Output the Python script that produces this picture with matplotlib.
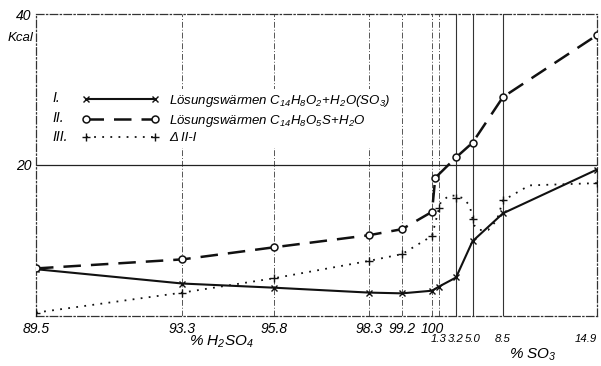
import matplotlib
matplotlib.use("Agg")
import matplotlib.pyplot as plt
import numpy as np

plt.rcParams['font.family'] = ['Liberation Sans', 'DejaVu Sans']
plt.rcParams['font.style'] = 'italic'
plt.rcParams['mathtext.fontset'] = 'custom'
plt.rcParams['mathtext.rm'] = 'Liberation Sans:italic'
plt.rcParams['mathtext.it'] = 'Liberation Sans:italic'

# composition axis: % H2SO4 up to 100, beyond that 100 + % free SO3
h2so4_ticks = [89.5, 93.3, 95.8, 98.3, 99.2, 100.0]
h2so4_labels = ["89.5", "93.3", "95.8", "98.3", "99.2", "100"]
so3_ticks = [101.3, 103.2, 105.0, 108.5, 114.9]
so3_labels = ["1.3", "3.2", "5.0", "8.5", "14.9"]

# the plate's axis is not linear: where each tick value sits along the width
axis_comp = [89.5, 93.3, 95.8, 98.3, 99.2, 100.0, 101.3, 103.2, 105.0, 108.5, 114.9]
axis_frac = [0.0, 0.2611, 0.4242, 0.5936, 0.6524, 0.7059, 0.7184, 0.7487, 0.7781, 0.8324, 1.0]

# I: Loesungswaermen C14H8O2 + H2O(SO3)
comp_I = [89.5, 93.3, 95.8, 98.3, 99.2, 100.0, 101.3, 103.2, 105.0, 108.5, 114.9]
heat_I = [6.2, 4.3, 3.75, 3.1, 3.0, 3.35, 3.9, 5.1, 9.9, 13.6, 19.4]

# II: Loesungswaermen C14H8O5S + H2O
comp_II = [89.5, 93.3, 95.8, 98.3, 99.2, 100.0, 100.6, 103.2, 105.0, 108.5, 114.9]
heat_II = [6.3, 7.5, 9.1, 10.7, 11.5, 13.8, 18.3, 21.0, 22.95, 29.0, 37.2]

# III: difference II - I (marked points)
comp_III = [89.5, 93.3, 95.8, 98.3, 99.2, 100.0, 101.3, 103.2, 105.0, 108.5, 114.9]
heat_III = [0.45, 3.1, 5.0, 7.3, 8.2, 10.6, 14.3, 15.6, 12.9, 15.3, 17.6]
# course of the hand drawn dotted curve III
curve_III_x = [89.5, 93.3, 95.8, 98.3, 99.2, 100.0, 101.3, 101.5, 102.5, 103.2, 104.0,
               104.7, 105.0, 105.2, 105.7, 106.8, 107.8, 108.5, 110.3, 114.9]
curve_III_y = [0.45, 3.1, 5.0, 7.3, 8.2, 10.6, 14.3, 15.1, 16.0, 15.9, 15.6,
               14.6, 12.9, 12.0, 11.4, 11.4, 12.7, 15.3, 17.3, 17.6]


def fwd(u):
    return np.interp(u, axis_comp, axis_frac)


def inv(f):
    return np.interp(f, axis_frac, axis_comp)


fig = plt.figure(figsize=(6.01, 3.66), dpi=100)
ax = fig.add_axes([36 / 601, 50 / 366, 561 / 601, 302 / 366])
ax.set_xscale('function', functions=(fwd, inv))
ax.set_xlim(89.5, 114.9)
ax.set_ylim(0, 40)

ink = '#111111'

# grid lines at the composition ticks
for v in h2so4_ticks[1:] + [101.3]:
    ax.axvline(v, color='#555555', lw=0.7, ls=(0, (6, 2, 1, 2)), zorder=1)
for v in so3_ticks[1:4]:
    ax.axvline(v, color='#333333', lw=0.8, zorder=1)
ax.axhline(20, color='#222222', lw=0.9, zorder=1)

for side in ['left', 'bottom', 'top', 'right']:
    ax.spines[side].set_linestyle((0, (6, 2, 1, 2)))
    ax.spines[side].set_linewidth(0.9)
    ax.spines[side].set_color('#333333')

# curves
ax.plot(comp_I, heat_I, '-', color=ink, lw=1.5, marker='x', ms=4.5, mew=1.0,
        zorder=4, label=r'Lösungswärmen $\mathrm{C_{14}H_8O_2\!+\!H_2O(SO_3)}$')
ax.plot(comp_II, heat_II, color=ink, lw=1.8, dashes=(7, 4), marker='o', ms=5,
        mfc='white', mew=1.1, zorder=4,
        label=r'Lösungswärmen $\mathrm{C_{14}H_8O_5S\!+\!H_2O}$')
ax.plot(curve_III_x, curve_III_y, color=ink, lw=1.3, dashes=(1, 3.5), zorder=3)
ax.plot(comp_III, heat_III, ls='none', color=ink, marker='+', ms=6, mew=1.0, zorder=4)
ax.plot([], [], color=ink, lw=1.3, dashes=(1, 3.5), marker='+', ms=6, mew=1.0,
        label='Δ II-I')

leg = ax.legend(loc='upper left', bbox_to_anchor=(0.075, 0.752), numpoints=2,
                handlelength=5.8, handletextpad=0.8, labelspacing=0.28,
                fontsize=9.5, frameon=True, borderpad=0.3, borderaxespad=0)
leg.get_frame().set_facecolor('white')
leg.get_frame().set_edgecolor('none')
leg.get_frame().set_alpha(1)

for lab, yy in zip(['I.', 'II.', 'III.'], [0.722, 0.656, 0.593]):
    ax.text(0.030, yy, lab, transform=ax.transAxes, fontsize=10, va='center',
            ha='left')

# ticks
ax.set_xticks(h2so4_ticks)
ax.set_xticklabels(h2so4_labels)
ax.set_xticks(so3_ticks, minor=True)
ax.set_xticklabels(so3_labels, minor=True)
ax.tick_params(axis='x', which='major', length=0, pad=4, labelsize=10)
ax.tick_params(axis='x', which='minor', length=0, pad=13, labelsize=8.2)
ax.get_xticklabels(minor=True)[-1].set_ha('right')
ax.set_yticks([20, 40])
ax.set_yticklabels(['20', '40'])
ax.tick_params(axis='y', length=0, pad=3, labelsize=10)

ax.text(-0.005, 0.92, 'Kcal', transform=ax.transAxes, ha='right', va='center',
        fontsize=9.5)
ax.text(0.33, -0.085, r'% $\mathrm{H_2SO_4}$', transform=ax.transAxes, ha='center',
        va='center', fontsize=11)
ax.text(0.885, -0.13, r'% $\mathrm{SO_3}$', transform=ax.transAxes, ha='center',
        va='center', fontsize=11)

fig.savefig('out.png', dpi=100)
